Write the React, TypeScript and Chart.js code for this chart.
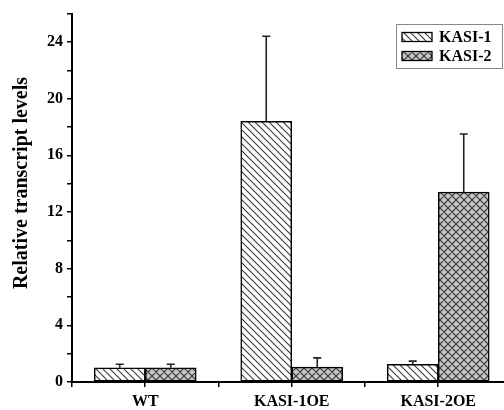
import React, { useEffect, useRef } from 'react';
import { Chart, registerables } from 'chart.js';

Chart.register(...registerables);

const categories = ['WT', 'KASI-1OE', 'KASI-2OE'];
const seriesNames = ['KASI-1', 'KASI-2'];
const kasi1Values = [1.0, 18.4, 1.25];
const kasi1Errors = [0.25, 6.0, 0.22];
const kasi2Values = [1.0, 1.05, 13.4];
const kasi2Errors = [0.25, 0.65, 4.1];
const yAxisTitle = 'Relative transcript levels';
const yMin = 0;
const yMax = 26;
const yStep = 2;
const yLabelEvery = 4;

const FONT = '"Liberation Serif", "Times New Roman", serif';

function makeHatch(ctx: CanvasRenderingContext2D, cross: boolean): CanvasPattern | string {
  const s = cross ? 8 : 7;
  const c = document.createElement('canvas');
  c.width = s;
  c.height = s;
  const g = c.getContext('2d');
  if (!g) return cross ? '#c4c4c4' : '#fff';
  g.fillStyle = cross ? '#c6c6c6' : '#ffffff';
  g.fillRect(0, 0, s, s);
  g.strokeStyle = cross ? '#333' : '#383838';
  g.lineWidth = 1.1;
  g.beginPath();
  g.moveTo(-1, -1);
  g.lineTo(s + 1, s + 1);
  g.moveTo(-1, s - 1);
  g.lineTo(1, s + 1);
  g.moveTo(s - 1, -1);
  g.lineTo(s + 1, 1);
  if (cross) {
    g.moveTo(-1, s + 1);
    g.lineTo(s + 1, -1);
    g.moveTo(-1, 1);
    g.lineTo(1, -1);
    g.moveTo(s - 1, s + 1);
    g.lineTo(s + 1, s - 1);
  }
  g.stroke();
  return ctx.createPattern(c, 'repeat') || '#ccc';
}

export default function App() {
  const ref = useRef<HTMLCanvasElement | null>(null);

  useEffect(() => {
    document.body.style.margin = '0';
    const canvas = ref.current;
    if (!canvas) return;
    const ctx = canvas.getContext('2d');
    if (!ctx) return;
    const p1 = makeHatch(ctx, false);
    const p2 = makeHatch(ctx, true);
    const values = [kasi1Values, kasi2Values];
    const errors = [kasi1Errors, kasi2Errors];
    const fills = [p1, p2];

    const extras = {
      id: 'extras',
      afterDatasetsDraw(chart: any) {
        const c = chart.ctx;
        const ys = chart.scales.y;
        errors.forEach((errArr, di) => {
          const meta = chart.getDatasetMeta(di);
          meta.data.forEach((el: any, i: number) => {
            const top = ys.getPixelForValue(values[di][i] + errArr[i]);
            c.save();
            c.strokeStyle = '#222';
            c.lineWidth = 1.6;
            c.beginPath();
            c.moveTo(el.x, el.y);
            c.lineTo(el.x, top);
            c.moveTo(el.x - 4, top);
            c.lineTo(el.x + 4, top);
            c.stroke();
            c.restore();
          });
        });
      },
      afterDraw(chart: any) {
        const c = chart.ctx;
        // y axis title
        c.save();
        c.translate(22, 183);
        c.rotate(-Math.PI / 2);
        c.font = `bold 20px ${FONT}`;
        c.fillStyle = '#000';
        c.textAlign = 'center';
        c.textBaseline = 'middle';
        c.fillText(yAxisTitle, 0, 0);
        c.restore();
        // legend
        const bx = 396;
        const by = 24;
        const bw = 106;
        const bh = 44;
        c.save();
        c.fillStyle = '#fff';
        c.fillRect(bx, by, bw, bh);
        c.strokeStyle = '#888';
        c.lineWidth = 1;
        c.strokeRect(bx + 0.5, by + 0.5, bw, bh);
        seriesNames.forEach((name, i) => {
          const cy = by + 13 + i * 19;
          c.fillStyle = fills[i] as any;
          c.fillRect(402, cy - 4.5, 30, 9);
          c.strokeStyle = '#000';
          c.lineWidth = 1.3;
          c.strokeRect(402, cy - 4.5, 30, 9);
          c.fillStyle = '#000';
          c.font = `bold 16px ${FONT}`;
          c.textAlign = 'left';
          c.textBaseline = 'middle';
          c.fillText(name, 439, cy + 1);
        });
        c.restore();
      },
    };

    const chart = new Chart(canvas, {
      type: 'bar',
      data: {
        datasets: [0, 1].map((di) => ({
          label: seriesNames[di],
          data: values[di].map((v, i) => ({ x: i, y: v })),
          backgroundColor: fills[di] as any,
          borderColor: '#000',
          borderWidth: 1.5,
          borderSkipped: false,
          barThickness: 51,
        })),
      },
      options: {
        animation: false,
        responsive: false,
        maintainAspectRatio: false,
        layout: { padding: { top: 12, right: 0, bottom: 0, left: 0 } },
        plugins: {
          legend: { display: false },
          tooltip: { enabled: false },
          title: { display: false },
        },
        scales: {
          x: {
            type: 'linear',
            min: -0.5,
            max: 2.449,
            offset: false,
            afterFit: (s: any) => {
              s.height = 28;
            },
            grid: {
              offset: false,
              drawOnChartArea: false,
              drawTicks: true,
              tickLength: 5,
              color: '#000',
              lineWidth: 1.5,
            },
            border: { display: true, color: '#000', width: 2 },
            ticks: {
              stepSize: 0.5,
              includeBounds: false,
              autoSkip: false,
              maxRotation: 0,
              minRotation: 0,
              padding: 5,
              color: '#000',
              font: { family: FONT, size: 16, weight: 'bold' },
              callback: (v: any) => {
                const n = Number(v);
                return Number.isInteger(n) && n >= 0 && n < categories.length ? categories[n] : '';
              },
            },
          },
          y: {
            min: yMin,
            max: yMax,
            afterFit: (s: any) => {
              s.width = 72;
            },
            grid: {
              drawOnChartArea: false,
              drawTicks: true,
              tickLength: 5,
              color: '#000',
              lineWidth: 1.5,
            },
            border: { display: true, color: '#000', width: 2 },
            ticks: {
              stepSize: yStep,
              autoSkip: false,
              padding: 4,
              color: '#000',
              font: { family: FONT, size: 16, weight: 'bold' },
              callback: (v: any) => (Number(v) % yLabelEvery === 0 ? String(v) : ''),
            },
          },
        },
      },
      plugins: [extras],
    } as any);

    return () => {
      chart.destroy();
    };
  }, []);

  return (
    <div style={{ position: 'relative', width: 504, height: 410 }}>
      <canvas ref={ref} width={504} height={410} style={{ display: 'block', width: 504, height: 410 }} />
    </div>
  );
}
